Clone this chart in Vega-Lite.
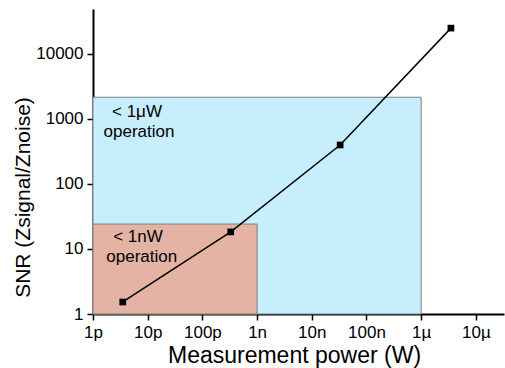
{
  "$schema": "https://vega.github.io/schema/vega-lite/v6.json",
  "width": 411,
  "height": 305,
  "autosize": "none",
  "padding": {"left": 93, "top": 9, "right": 1, "bottom": 54},
  "background": "white",
  "config": {
    "view": {"stroke": null},
    "font": "Liberation Sans",
    "axis": {
      "domainColor": "black",
      "domainWidth": 2,
      "tickColor": "black",
      "tickWidth": 1.5,
      "tickSize": 6,
      "labelFontSize": 17,
      "labelColor": "black",
      "labelPadding": 4,
      "labelFlush": false,
      "labelOverlap": false,
      "grid": false,
      "titleFontSize": 23,
      "titleFontWeight": "normal",
      "titleColor": "black"
    }
  },
  "resolve": {"axis": {"y": "independent"}},
  "layer": [
    {
      "data": {"values": [
        {"region": "uW", "x1": 1e-12, "x2": 1e-6, "y1": 1, "y2": 2160},
        {"region": "nW", "x1": 1e-12, "x2": 1e-9, "y1": 1, "y2": 24.2}
      ]},
      "mark": {"type": "rect", "stroke": "#7f7f7f", "strokeWidth": 1},
      "encoding": {
        "x": {
          "field": "x1", "type": "quantitative",
          "scale": {"type": "log", "domain": [1e-12, 3.27e-5], "nice": false},
          "axis": {
            "values": [1e-12, 1e-11, 1e-10, 1e-9, 1e-8, 1e-7, 1e-6, 1e-5],
            "format": "~s",
            "title": "Measurement power (W)",
            "titleX": 201, "titleY": 48,
            "titleAlign": "center", "titleBaseline": "alphabetic"
          }
        },
        "x2": {"field": "x2"},
        "y": {
          "field": "y1", "type": "quantitative",
          "scale": {"type": "log", "domain": [1, 49200], "nice": false},
          "axis": {
            "values": [1, 10, 100, 1000, 10000],
            "format": "d",
            "title": "SNR (Zsignal/Znoise)",
            "titleAngle": -90,
            "titleX": -64, "titleY": 188,
            "titleAlign": "center", "titleBaseline": "alphabetic",
            "titleFontSize": 21
          }
        },
        "y2": {"field": "y2"},
        "fill": {
          "field": "region", "type": "nominal",
          "scale": {"domain": ["uW", "nW"], "range": ["#c6eefc", "#e4b3a3"]},
          "legend": null
        }
      }
    },
    {
      "data": {"values": [
        {"t": "< 1μW", "x": 6.37e-12, "y": 1073},
        {"t": "operation", "x": 6.93e-12, "y": 534},
        {"t": "< 1nW", "x": 6.65e-12, "y": 12.7},
        {"t": "operation", "x": 7.77e-12, "y": 6.24}
      ]},
      "mark": {"type": "text", "fontSize": 17, "align": "center", "baseline": "alphabetic", "color": "black"},
      "encoding": {
        "x": {"field": "x", "type": "quantitative"},
        "y": {"field": "y", "type": "quantitative", "axis": null},
        "text": {"field": "t"}
      }
    },
    {
      "data": {"values": [
        {"p": 3.5e-12, "snr": 1.53},
        {"p": 3.3e-10, "snr": 18.3},
        {"p": 3.3e-8, "snr": 398},
        {"p": 3.5e-6, "snr": 25000}
      ]},
      "layer": [
        {
          "mark": {"type": "line", "color": "black", "strokeWidth": 1.5},
          "encoding": {
            "x": {"field": "p", "type": "quantitative"},
            "y": {"field": "snr", "type": "quantitative", "axis": null}
          }
        },
        {
          "mark": {"type": "square", "filled": true, "color": "black", "opacity": 1, "size": 45},
          "encoding": {
            "x": {"field": "p", "type": "quantitative"},
            "y": {
              "field": "snr", "type": "quantitative",
              "axis": {
                "orient": "left",
                "values": [2,3,4,5,6,7,8,9,20,30,40,50,60,70,80,90,200,300,400,500,600,700,800,900,2000,3000,4000,5000,6000,7000,8000,9000,20000,30000,40000],
                "labels": false,
                "domain": false,
                "tickSize": 3,
                "title": null
              }
            }
          }
        }
      ]
    }
  ]
}
